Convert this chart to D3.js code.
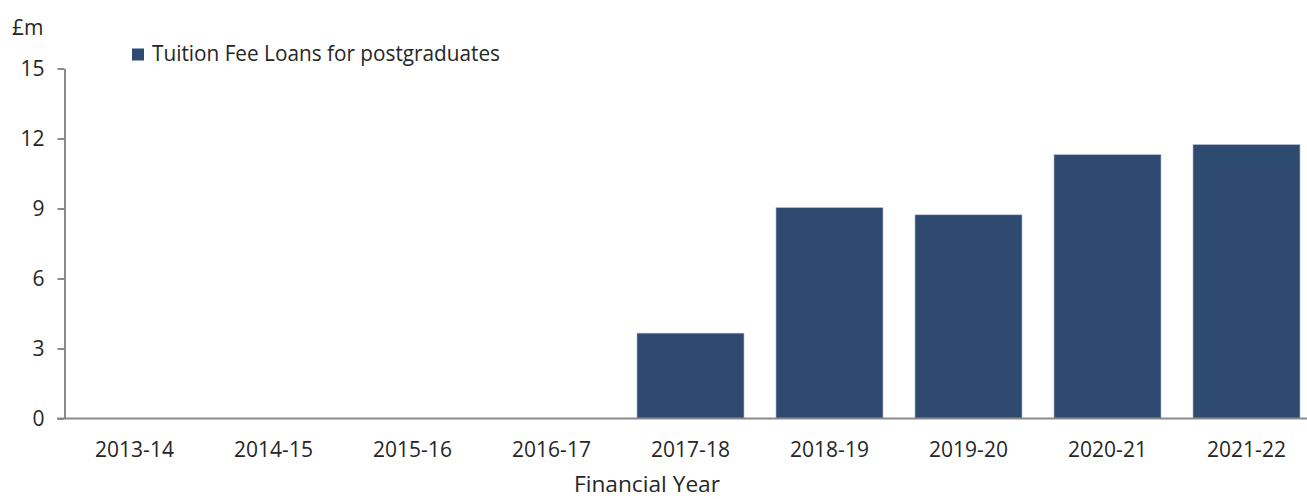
<!DOCTYPE html>
<html>
<head>
<meta charset="utf-8">
<script src="https://cdn.jsdelivr.net/npm/d3@7"></script>
<style>
  html, body { margin: 0; padding: 0; background: #fff; }
  svg { display: block; font-family: "Open Sans", "Noto Sans", sans-serif; }
</style>
</head>
<body>
<svg id="chart"></svg>
<script>
// Tuition Fee Loans for postgraduates, £m by financial year
const years = ["2013-14", "2014-15", "2015-16", "2016-17", "2017-18", "2018-19", "2019-20", "2020-21", "2021-22"];
const loans = [0, 0, 0, 0, 3.66, 9.04, 8.73, 11.31, 11.74];
const yTicks = [0, 3, 6, 9, 12, 15];
const seriesName = "Tuition Fee Loans for postgraduates";

const width = 1307, height = 499;
const barColor = "#2e4a70";
const axisColor = "#8a8a8a";
const textColor = "#262626";

const svg = d3.select("#chart")
  .attr("width", width)
  .attr("height", height);

// scales
const x = d3.scaleBand()
  .domain(years)
  .range([65, 1316])
  .paddingInner(0.23)
  .paddingOuter(0.115);

const y = d3.scaleLinear()
  .domain([0, 15])
  .range([418.5, 68.5]);

// bars
svg.append("g")
  .selectAll("rect")
  .data(years.map((yr, i) => ({ yr, v: loans[i] })))
  .enter()
  .append("rect")
  .attr("x", d => x(d.yr))
  .attr("y", d => y(d.v))
  .attr("width", x.bandwidth())
  .attr("height", d => y(0) - y(d.v))
  .attr("fill", barColor)
  .attr("stroke", d => d.v > 0 ? "#b8c4d4" : "none")
  .attr("stroke-width", 0.6);

// y axis
const yAxis = svg.append("g")
  .attr("transform", `translate(${x.range()[0] - 0.5},0)`)
  .call(d3.axisLeft(y).tickValues(yTicks).tickSize(7).tickSizeOuter(0).tickPadding(13));

yAxis.select(".domain").attr("stroke", axisColor).attr("stroke-width", 2);
yAxis.selectAll(".tick line").attr("stroke", axisColor).attr("stroke-width", 2);
yAxis.selectAll(".tick text")
  .attr("fill", textColor)
  .style("font-size", "21px")
  .style("font-family", "'Open Sans', sans-serif");

// x axis
const xAxis = svg.append("g")
  .attr("transform", `translate(0,${y(0)})`)
  .call(d3.axisBottom(x).tickSize(0).tickPadding(23.5));

xAxis.select(".domain").remove();
xAxis.append("line")
  .attr("x1", 57).attr("x2", width)
  .attr("y1", 0).attr("y2", 0)
  .attr("stroke", axisColor)
  .attr("stroke-width", 2);
xAxis.selectAll(".tick text")
  .attr("fill", textColor)
  .style("font-size", "21px")
  .style("font-family", "'Open Sans', sans-serif");

// axis titles
svg.append("text")
  .attr("x", 12)
  .attr("y", 35)
  .attr("fill", textColor)
  .style("font-size", "21px")
  .text("£m");

svg.append("text")
  .attr("x", 647)
  .attr("y", 492)
  .attr("text-anchor", "middle")
  .attr("fill", textColor)
  .style("font-size", "21px")
  .attr("textLength", 146)
  .attr("lengthAdjust", "spacingAndGlyphs")
  .text("Financial Year");

// legend
const legend = svg.append("g").attr("transform", "translate(132,48.5)");
legend.append("rect")
  .attr("width", 12)
  .attr("height", 12)
  .attr("fill", barColor);
// Calibri in the original is narrower than Open Sans, so squeeze to its width
legend.append("text")
  .attr("x", 20)
  .attr("y", 12.2)
  .attr("fill", textColor)
  .style("font-size", "21px")
  .attr("textLength", 348)
  .attr("lengthAdjust", "spacingAndGlyphs")
  .text(seriesName);
</script>
</body>
</html>
